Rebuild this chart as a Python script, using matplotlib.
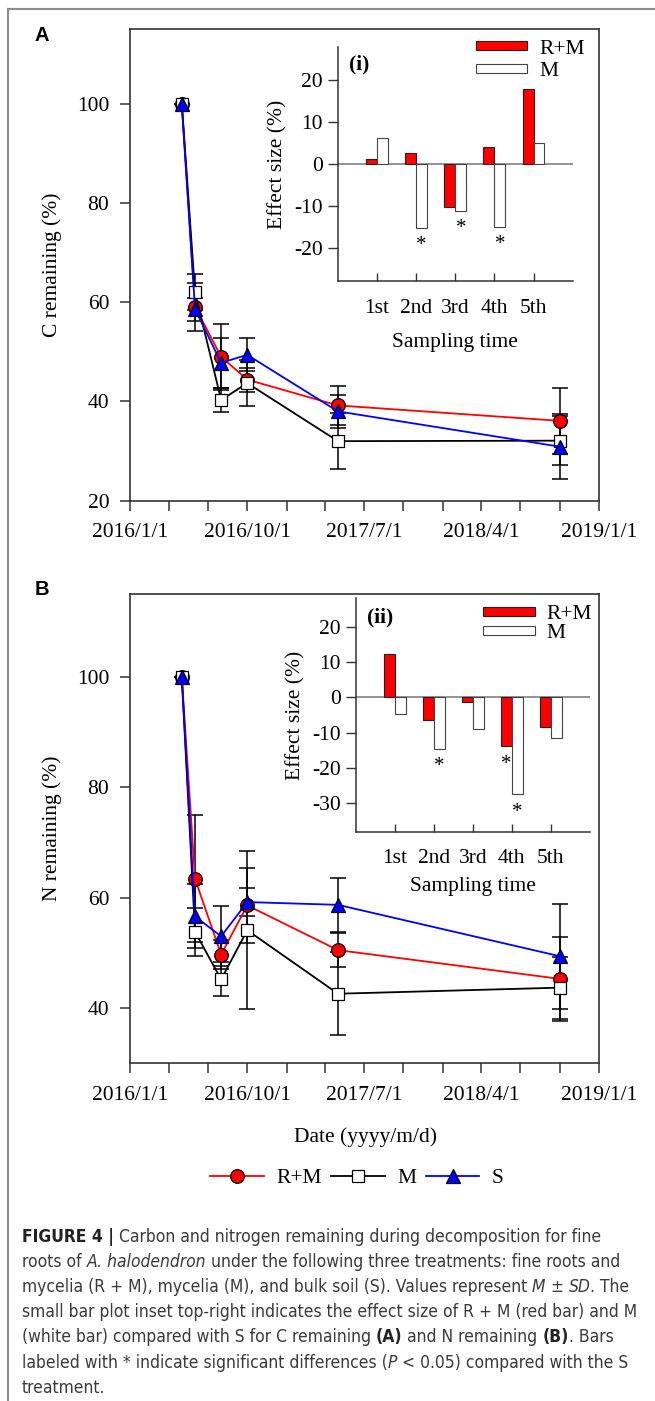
import datetime as dt

import matplotlib
matplotlib.use('Agg')
import matplotlib.pyplot as plt
import matplotlib.dates as mdates
import numpy as np
from matplotlib import font_manager
from matplotlib.font_manager import FontProperties
from matplotlib.lines import Line2D
from matplotlib.patches import Patch

plt.rcParams['font.family'] = 'Liberation Serif'
plt.rcParams['font.size'] = 15.5
plt.rcParams['axes.unicode_minus'] = False

#================ data ========================================
dates = [dt.date(2016, 5, 1), dt.date(2016, 6, 1), dt.date(2016, 8, 1),
         dt.date(2016, 10, 1), dt.date(2017, 5, 1), dt.date(2018, 10, 1)]

# C remaining (%) mean and SD
c_rm = [100, 59.1, 49.0, 44.4, 39.2, 36.1]
c_rm_sd = [0, 4.8, 6.6, 2.4, 4.0, 6.7]
c_m = [100, 62.0, 40.3, 43.7, 32.0, 32.1]
c_m_sd = [0, 3.6, 2.5, 4.7, 5.7, 4.9]
c_s = [100, 58.6, 47.8, 49.4, 38.0, 30.9]
c_s_sd = [0, 2.3, 5.0, 3.3, 3.3, 6.5]

# N remaining (%) mean and SD
n_rm = [100, 63.4, 49.7, 58.6, 50.5, 45.3]
n_rm_sd = [0, 11.5, 2.6, 6.8, 3.1, 7.6]
n_m = [100, 53.8, 45.2, 54.1, 42.6, 43.7]
n_m_sd = [0, 4.4, 3.1, 14.3, 7.5, 5.6]
n_s = [100, 56.6, 53.0, 59.2, 58.7, 49.4]
n_s_sd = [0, 5.8, 5.4, 2.6, 4.9, 9.5]

# effect size insets (%)
sampling = ['1st', '2nd', '3rd', '4th', '5th']
eff_c_rm = [1.3, 2.6, -10.3, 4.0, 17.9]
eff_c_m = [6.1, -15.2, -11.1, -15.0, 4.9]
eff_n_rm = [12.2, -6.3, -1.2, -13.9, -8.3]
eff_n_m = [-4.7, -14.5, -9.1, -27.4, -11.4]
sig_c_rm = [0, 0, 0, 0, 0]
sig_c_m = [0, 1, 1, 1, 0]
sig_n_rm = [0, 0, 0, 1, 0]
sig_n_m = [0, 1, 0, 1, 0]

xtick_dates = [dt.date(2016, 1, 1), dt.date(2016, 10, 1), dt.date(2017, 7, 1),
               dt.date(2018, 4, 1), dt.date(2019, 1, 1)]

# caption: (text, style) pieces per line; r = regular, i = italic, b = bold
caption = [
    [("FIGURE 4 |", 'b'), (" Carbon and nitrogen remaining during decomposition for fine", 'r')],
    [("roots of ", 'r'), ("A. halodendron", 'i'),
     (" under the following three treatments: fine roots and", 'r')],
    [("mycelia (R + M), mycelia (M), and bulk soil (S). Values represent ", 'r'),
     ("M", 'i'), (" \u00b1 ", 'r'), ("SD", 'i'), (". The", 'r')],
    [("small bar plot inset top-right indicates the effect size of R + M (red bar) and M", 'r')],
    [("(white bar) compared with S for C remaining ", 'r'), ("(A)", 'b'),
     (" and N remaining ", 'r'), ("(B)", 'b'), (". Bars", 'r')],
    [("labeled with * indicate significant differences (", 'r'), ("P", 'i'),
     (" < 0.05) compared with the S", 'r')],
    [("treatment.", 'r')],
]
#================ end of data ====================


# pick a narrow sans for the caption, preferring one with regular and italic faces
def _w(f):
    return f.weight if isinstance(f.weight, int) else font_manager.weight_dict.get(f.weight, 400)


groups = {}
for f in font_manager.fontManager.ttflist:
    narrow = 'Narrow' in f.name or 'Condensed' in f.name or str(f.stretch) in (
        'condensed', 'semi-condensed')
    if narrow and 'Sans' in f.name and 'Mono' not in f.name and 'CJK' not in f.name:
        groups.setdefault((f.name, str(f.stretch)), []).append(f)


def _score(key):
    fs = groups[key]
    return (2 * any(f.style in ('italic', 'oblique') for f in fs)
            + 2 * any(_w(f) == 400 for f in fs) + any(_w(f) >= 600 for f in fs))


cap_family, cap_stretch = max(groups, key=_score) if groups else ('Liberation Sans', 'normal')
cap_props = {
    'r': dict(family=cap_family, stretch=cap_stretch, weight=400, style='normal'),
    'i': dict(family=cap_family, stretch=cap_stretch, weight=400, style='italic'),
    'b': dict(family=cap_family, stretch=cap_stretch, weight='bold', style='normal'),
}

W, H = 655, 1401
fig = plt.figure(figsize=(W / 100, H / 100), dpi=100)


def px_axes(left, top, right, bottom):
    return fig.add_axes([left / W, 1 - bottom / H, (right - left) / W, (bottom - top) / H])


styles = [dict(color='red', marker='o', ms=9.8, mfc='red'),
          dict(color='black', marker='s', ms=9.2, mfc='white'),
          dict(color='blue', marker='^', ms=10.5, mfc='blue')]


def main_panel(ax, series, ylim, yticks, ylabel):
    for mean, sd in series:
        ax.errorbar(dates, mean, yerr=sd, fmt='none', ecolor='black',
                    elinewidth=1.1, capsize=5.5, capthick=1.1, zorder=2)
    lines = []
    for (mean, sd), st in zip(series, styles):
        ln, = ax.plot(dates, mean, lw=1.3, mec='black', mew=0.9, zorder=3, **st)
        lines.append(ln)
    ax.set_xlim(dt.date(2016, 1, 1), dt.date(2019, 1, 1))
    ax.set_ylim(*ylim)
    ax.set_yticks(yticks)
    ax.set_xticks(xtick_dates)
    ax.xaxis.set_minor_locator(mdates.MonthLocator(bymonth=[1, 4, 7, 10]))
    ax.xaxis.set_major_formatter(plt.FuncFormatter(
        lambda v, p: '{0.year}/{0.month}/{0.day}'.format(mdates.num2date(v))))
    ax.tick_params(which='both', direction='out', length=7, width=1.1, color='#333')
    ax.tick_params(axis='x', which='major', pad=9)
    ax.tick_params(axis='y', pad=8)
    for sp in ax.spines.values():
        sp.set_linewidth(1.2)
        sp.set_color('#333')
    ax.set_ylabel(ylabel, labelpad=11)
    return lines


def inset_panel(ax, rm, m, sig_rm, sig_m, ylim, yticks, xlabelpad):
    x = np.arange(1, len(sampling) + 1)
    w = 0.28
    ax.axhline(0, color='#8a8a8a', lw=1.3, zorder=1)
    ax.bar(x - w / 2, rm, w, color='red', edgecolor='#222', lw=0.8, zorder=2)
    ax.bar(x + w / 2, m, w, color='white', edgecolor='#444', lw=0.8, zorder=2)
    for xi, v, s in zip(x - w / 2, rm, sig_rm):
        if s:
            ax.annotate('*', (xi, v), xytext=(0, -6), textcoords='offset points',
                        ha='center', va='top', fontsize=15)
    for xi, v, s in zip(x + w / 2, m, sig_m):
        if s:
            ax.annotate('*', (xi, v), xytext=(0, -6), textcoords='offset points',
                        ha='center', va='top', fontsize=15)
    ax.set_xlim(0, 6)
    ax.set_ylim(*ylim)
    ax.set_yticks(yticks)
    ax.set_xticks(x)
    ax.set_xticklabels(sampling)
    ax.patch.set_visible(False)
    ax.spines['top'].set_visible(False)
    ax.spines['right'].set_visible(False)
    for sp in ('left', 'bottom'):
        ax.spines[sp].set_linewidth(1.1)
        ax.spines[sp].set_color('#333')
    ax.tick_params(axis='x', direction='in', length=6, width=1.0, pad=12.5, color='#333')
    ax.tick_params(axis='y', direction='out', length=7, width=1.0, pad=4, color='#333')
    ax.set_xlabel('Sampling time', labelpad=xlabelpad)
    ax.set_ylabel('Effect size (%)', labelpad=5)


# panel A
axA = px_axes(130, 29.4, 599, 500.7)
lines = main_panel(axA, [(c_rm, c_rm_sd), (c_m, c_m_sd), (c_s, c_s_sd)],
                   (20, 115), [20, 40, 60, 80, 100], 'C remaining (%)')
insA = px_axes(338, 46.6, 572.6, 281.4)
inset_panel(insA, eff_c_rm, eff_c_m, sig_c_rm, sig_c_m, (-28, 28),
            [-20, -10, 0, 10, 20], 11)

# panel B
axB = px_axes(130, 594, 599, 1063.3)
main_panel(axB, [(n_rm, n_rm_sd), (n_m, n_m_sd), (n_s, n_s_sd)],
           (30, 115), [40, 60, 80, 100], 'N remaining (%)')
insB = px_axes(356, 598.3, 589.7, 831.7)
inset_panel(insB, eff_n_rm, eff_n_m, sig_n_rm, sig_n_m, (-38, 28),
            [-30, -20, -10, 0, 10, 20], 6.5)

# inset legends
bar_handles = [Patch(facecolor='red', edgecolor='#222', lw=0.8),
               Patch(facecolor='white', edgecolor='#444', lw=0.8)]
insA.legend(bar_handles, ['R+M', 'M'], loc='upper left',
            bbox_to_anchor=(475.7 / W, 1 - 39.5 / H), bbox_transform=fig.transFigure,
            frameon=False, borderpad=0, borderaxespad=0, handlelength=2.4,
            handleheight=0.3, handletextpad=0.55, labelspacing=0.18)
insB.legend(bar_handles, ['R+M', 'M'], loc='upper left',
            bbox_to_anchor=(483 / W, 1 - 605 / H), bbox_transform=fig.transFigure,
            frameon=False, borderpad=0, borderaxespad=0, handlelength=2.4,
            handleheight=0.3, handletextpad=0.55, labelspacing=0.02)

# inset tags and panel letters
fig.text(348.5 / W, 1 - 64.5 / H, '(i)', fontweight='bold', va='center', ha='left')
fig.text(366.5 / W, 1 - 617.7 / H, '(ii)', fontweight='bold', va='center', ha='left')
fig.text(41.7 / W, 1 - 35.8 / H, 'A', family='Liberation Sans', fontweight='bold',
         fontsize=14.5, va='center', ha='center')
fig.text(41.7 / W, 1 - 589.3 / H, 'B', family='Liberation Sans', fontweight='bold',
         fontsize=14.5, va='center', ha='center')

# shared x label and legend
fig.text(366 / W, 1 - 1136.7 / H, 'Date (yyyy/m/d)', ha='center', va='center')
fig.legend(lines, ['R+M', 'M', 'S'], loc='center', ncol=3,
           bbox_to_anchor=(356.8 / W, 1 - 1178 / H), frameon=False, borderpad=0,
           handlelength=2.5, handletextpad=0.55, columnspacing=0.45)

# caption: lay pieces out one after another, sized so the longest line
# ends where it does in the original
renderer = fig.canvas.get_renderer()


def advance(s, style, size):
    fp = FontProperties(size=size, **cap_props[style])
    wid = lambda t: renderer.get_text_width_height_descent(t, fp, ismath=False)[0]
    return wid('|' + s + '|') - wid('||')


base = 14.0
widest = max(sum(advance(s, st, base) for s, st in line) for line in caption)
cap_size = base * 620 / widest
for i, line in enumerate(caption):
    x = 21.8
    y = 1 - (1241.7 + 25.2 * i) / H
    for s, st in line:
        fig.text(x / W, y, s, fontsize=cap_size, ha='left', va='baseline',
                 color='#222222' if st == 'b' else '#3a3a3a', **cap_props[st])
        x += advance(s, st, cap_size)

# page frame (top and left rules)
fig.add_artist(Line2D([8 / W, 1], [1 - 8.5 / H] * 2, transform=fig.transFigure,
                      color='#8c8c8c', lw=1.5))
fig.add_artist(Line2D([8 / W] * 2, [0, 1 - 8.5 / H], transform=fig.transFigure,
                      color='#8c8c8c', lw=1.5))

fig.savefig('out.png', dpi=100)
